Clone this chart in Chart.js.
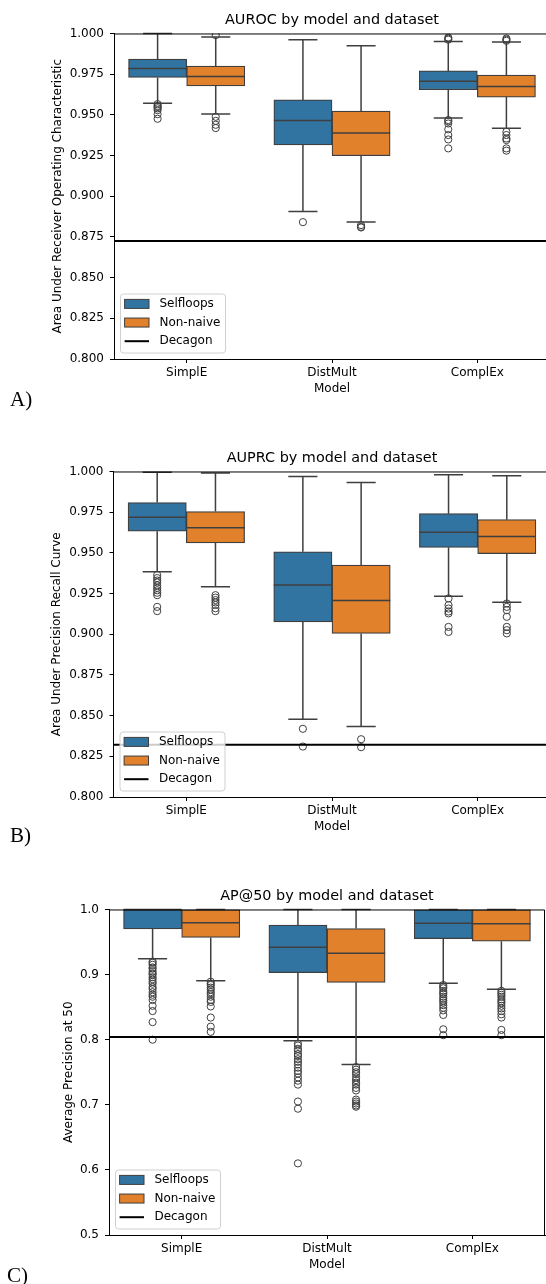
<!DOCTYPE html>
<html>
<head>
<meta charset="utf-8">
<script src="https://cdn.jsdelivr.net/npm/chart.js@4.4.0/dist/chart.umd.min.js"></script>
<style>
  html, body { margin: 0; padding: 0; background: #fff; }
  body { position: relative; width: 546px; height: 1284px; overflow: hidden; }
  .panel { position: absolute; left: 0; }
  .tag { position: absolute; font-family: "Liberation Serif", serif; font-size: 21px; line-height: 21px; color: #000; }
</style>
</head>
<body>
<div class="panel" style="top:0px"><canvas id="auroc" width="664" height="399"></canvas></div>
<div class="tag" style="top:389px;left:10px">A)</div>
<div class="panel" style="top:438px"><canvas id="auprc" width="664" height="399"></canvas></div>
<div class="tag" style="top:825px;left:10px">B)</div>
<div class="panel" style="top:876px"><canvas id="ap50" width="654" height="399"></canvas></div>
<div class="tag" style="top:1265px;left:7px">C)</div>
<script>
const models = ['SimplE', 'DistMult', 'ComplEx'];
const groups = ['Selfloops', 'Non-naive'];
const ticksAB = [0.800, 0.825, 0.850, 0.875, 0.900, 0.925, 0.950, 0.975, 1.000];
const ticksC = [0.5, 0.6, 0.7, 0.8, 0.9, 1.0];

// box stats per model: [lower whisker, q1, median, q3, upper whisker]
const aurocSelfloops = [[0.9572, 0.9730, 0.9785, 0.9842, 1.0000], [0.8907, 0.9316, 0.9466, 0.9592, 0.9961], [0.9480, 0.9654, 0.9707, 0.9770, 0.9951]];
const aurocNonNaive = [[0.9506, 0.9678, 0.9736, 0.9799, 0.9979], [0.8841, 0.9249, 0.9388, 0.9523, 0.9924], [0.9417, 0.9609, 0.9675, 0.9744, 0.9947]];
const aurocSelfloopsOut = [[0.9566, 0.9555, 0.9549, 0.9540, 0.9529, 0.9504, 0.9476], [0.8841], [0.9975, 0.9968, 0.9962, 0.9468, 0.9460, 0.9447, 0.9411, 0.9376, 0.9349, 0.9294]];
const aurocNonNaiveOut = [[0.9990, 0.9488, 0.9463, 0.9439, 0.9419], [0.8823, 0.8812, 0.8808], [0.9969, 0.9962, 0.9955, 0.9396, 0.9376, 0.9355, 0.9345, 0.9294, 0.9280]];
const aurocDecagon = 0.8725;

const auprcSelfloops = [[0.9384, 0.9633, 0.9719, 0.9809, 0.9996], [0.8478, 0.9076, 0.9302, 0.9507, 0.9969], [0.9234, 0.9534, 0.9627, 0.9741, 0.9980]];
const auprcNonNaive = [[0.9292, 0.9561, 0.9655, 0.9754, 0.9990], [0.8433, 0.9005, 0.9208, 0.9425, 0.9932], [0.9197, 0.9495, 0.9600, 0.9704, 0.9974]];
const auprcSelfloopsOut = [[0.9364, 0.9345, 0.9330, 0.9318, 0.9300, 0.9285, 0.9270, 0.9255, 0.9240, 0.9168, 0.9142], [0.8419, 0.8310], [0.9220, 0.9179, 0.9158, 0.9140, 0.9128, 0.9045, 0.9014]];
const auprcNonNaiveOut = [[0.9240, 0.9225, 0.9210, 0.9195, 0.9180, 0.9160, 0.9142], [0.8355, 0.8306], [0.9189, 0.9168, 0.9148, 0.9107, 0.9045, 0.9025, 0.9005]];
const auprcDecagon = 0.8321;

const ap50Selfloops = [[0.9245, 0.9703, 1.0, 1.0, 1.0], [0.7982, 0.9030, 0.9420, 0.9760, 1.0], [0.8866, 0.9553, 0.9790, 1.0, 1.0]];
const ap50NonNaive = [[0.8906, 0.9569, 0.9795, 1.0, 1.0], [0.7618, 0.8881, 0.9328, 0.9707, 1.0], [0.8774, 0.9513, 0.9780, 1.0, 1.0]];
const ap50SelfloopsOut = [
  [0.920, 0.918, 0.915, 0.911, 0.909, 0.905, 0.902, 0.900, 0.896, 0.893, 0.889, 0.886, 0.881, 0.878, 0.873, 0.869, 0.866, 0.861, 0.852, 0.844, 0.827, 0.800],
  [0.794, 0.791, 0.786, 0.783, 0.778, 0.775, 0.770, 0.766, 0.762, 0.757, 0.752, 0.748, 0.742, 0.737, 0.731, 0.705, 0.694, 0.610],
  [0.884, 0.881, 0.879, 0.875, 0.872, 0.870, 0.866, 0.863, 0.860, 0.857, 0.853, 0.849, 0.845, 0.838, 0.816, 0.807]];
const ap50NonNaiveOut = [
  [0.889, 0.886, 0.884, 0.880, 0.877, 0.873, 0.870, 0.866, 0.861, 0.858, 0.851, 0.834, 0.820, 0.812],
  [0.758, 0.754, 0.750, 0.747, 0.742, 0.738, 0.734, 0.731, 0.726, 0.722, 0.708, 0.705, 0.702, 0.699, 0.697],
  [0.875, 0.872, 0.869, 0.866, 0.862, 0.859, 0.856, 0.852, 0.848, 0.844, 0.839, 0.834, 0.815, 0.807]];
const ap50Decagon = 0.8043;

const fills = ['#3274a1', '#e1812c'];
const edge = '#3f3f3f';
const family = '"DejaVu Sans", sans-serif';
const shift = [-0.2, 0.2];

Chart.defaults.font.family = family;
Chart.defaults.color = '#000';

// whiskers, caps and medians, drawn on the bar elements through the y scale
const boxParts = {
  id: 'boxParts',
  afterDatasetsDraw(chart) {
    const ctx = chart.ctx;
    const y = chart.scales.y;
    ctx.save();
    ctx.strokeStyle = edge;
    ctx.lineWidth = 1.5;
    chart.data.datasets.forEach((ds, d) => {
      if (!ds.stats) return;
      chart.getDatasetMeta(d).data.forEach((bar, i) => {
        const [lo, q1, med, q3, hi] = ds.stats[i];
        const half = bar.width / 2;
        ctx.beginPath();
        ctx.moveTo(bar.x, y.getPixelForValue(q1));
        ctx.lineTo(bar.x, y.getPixelForValue(lo));
        ctx.moveTo(bar.x - half / 2, y.getPixelForValue(lo));
        ctx.lineTo(bar.x + half / 2, y.getPixelForValue(lo));
        ctx.moveTo(bar.x, y.getPixelForValue(q3));
        ctx.lineTo(bar.x, y.getPixelForValue(hi));
        ctx.moveTo(bar.x - half / 2, y.getPixelForValue(hi));
        ctx.lineTo(bar.x + half / 2, y.getPixelForValue(hi));
        ctx.moveTo(bar.x - half, y.getPixelForValue(med));
        ctx.lineTo(bar.x + half, y.getPixelForValue(med));
        ctx.stroke();
      });
    });
    ctx.restore();
  }
};

// top and right spines plus the legend in the lower left corner
const frameAndLegend = {
  id: 'frameAndLegend',
  afterDraw(chart) {
    const {ctx, chartArea: a} = chart;
    ctx.save();
    ctx.strokeStyle = '#000';
    ctx.lineWidth = 1;
    ctx.beginPath();
    ctx.moveTo(a.left, a.top + 0.5);
    ctx.lineTo(a.right - 0.5, a.top + 0.5);
    ctx.lineTo(a.right - 0.5, a.bottom);
    ctx.stroke();

    const w = 105, h = 59, x = a.left + 6, top = a.bottom - 6.5 - h;
    ctx.beginPath();
    ctx.roundRect(x + 0.5, top + 0.5, w, h, 3);
    ctx.fillStyle = 'rgba(255,255,255,0.8)';
    ctx.fill();
    ctx.strokeStyle = '#d0d0d0';
    ctx.stroke();
    const items = chart.data.datasets.filter(ds => !ds.outliers);
    items.forEach((ds, k) => {
      const cy = top + 10.4 + k * 18.65;
      if (ds.type === 'bar') {
        ctx.fillStyle = ds.backgroundColor;
        ctx.fillRect(x + 4.6, cy - 4.5, 24.4, 9);
        ctx.strokeStyle = edge;
        ctx.lineWidth = 1;
        ctx.strokeRect(x + 4.6, cy - 4.5, 24.4, 9);
      } else {
        ctx.strokeStyle = ds.borderColor;
        ctx.lineWidth = ds.borderWidth;
        ctx.beginPath();
        ctx.moveTo(x + 4.6, cy);
        ctx.lineTo(x + 29, cy);
        ctx.stroke();
      }
      ctx.fillStyle = '#000';
      ctx.font = '12px ' + family;
      ctx.textBaseline = 'middle';
      ctx.textAlign = 'left';
      ctx.fillText(ds.label, x + 39.4, cy);
    });
    ctx.restore();
  }
};

function boxPanel(id, title, yLabel, ticks, digits, stats, outs, decagon, sideW, yTitlePad) {
  const datasets = stats.map((s, g) => ({
    type: 'bar',
    label: groups[g],
    data: s.map((b, i) => ({x: i + shift[g], y: [b[1], b[3]]})),
    stats: s,
    backgroundColor: fills[g],
    borderColor: edge,
    borderWidth: 1.25,
    borderSkipped: false,
    grouped: false,
    categoryPercentage: 1.0,
    barPercentage: 1.0,
    order: 3,
  }));
  outs.forEach((o, g) => datasets.push({
    type: 'scatter',
    label: groups[g] + ' outliers',
    outliers: true,
    data: o.flatMap((vals, i) => vals.map(v => ({x: i + shift[g], y: v}))),
    pointRadius: 3.6,
    borderWidth: 1,
    borderColor: edge,
    backgroundColor: 'rgba(0,0,0,0)',
    order: 2,
  }));
  datasets.push({
    type: 'line',
    label: 'Decagon',
    data: [{x: -0.5, y: decagon}, {x: 2.5, y: decagon}],
    borderColor: '#000',
    borderWidth: 2,
    pointRadius: 0,
    order: 1,
  });

  new Chart(document.getElementById(id), {
    type: 'bar',
    data: { datasets: datasets },
    options: {
      responsive: false,
      animation: false,
      layout: { padding: 0 },
      plugins: {
        legend: { display: false },
        tooltip: { enabled: false },
        title: {
          display: true,
          text: title,
          color: '#000',
          font: { size: 14.4, weight: 'normal', family: family },
          padding: { top: 11.4, bottom: 4.8 },
        },
      },
      scales: {
        x: {
          type: 'linear',
          min: -0.5,
          max: 2.5,
          offset: false,
          grid: { display: true, drawOnChartArea: false, drawTicks: true, tickLength: 4, offset: false, color: '#000' },
          border: { display: true, color: '#000', width: 1 },
          ticks: { color: '#000', font: { size: 12 }, padding: 3, maxRotation: 0, autoSkip: false, callback: v => models[v] },
          afterBuildTicks: s => { s.ticks = models.map((m, i) => ({ value: i })); },
          title: { display: true, text: 'Model', color: '#000', font: { size: 12 }, padding: { top: 0, bottom: 2.5 } },
          afterFit: s => { s.height = 40; },
        },
        y: {
          min: ticks[0],
          max: ticks[ticks.length - 1],
          grid: { display: true, drawOnChartArea: false, drawTicks: true, tickLength: 4, color: '#000' },
          border: { display: true, color: '#000', width: 1 },
          ticks: { color: '#000', font: { size: 12 }, padding: 6, callback: v => v.toFixed(digits) },
          afterBuildTicks: s => { s.ticks = ticks.map(v => ({ value: v })); },
          title: { display: true, text: yLabel, color: '#000', font: { size: 12 }, padding: { top: yTitlePad, bottom: 0 } },
          afterFit: s => { s.width = sideW; },
        },
        // empty right-hand box so the plot is centred under its title like the original
        yRight: {
          type: 'linear',
          position: 'right',
          display: true,
          grid: { display: false },
          ticks: { display: false },
          border: { display: false },
          afterFit: s => { s.width = sideW; },
        },
      },
    },
    plugins: [boxParts, frameAndLegend],
  });
}

boxPanel('auroc', 'AUROC by model and dataset', 'Area Under Receiver Operating Characteristic',
  ticksAB, 3, [aurocSelfloops, aurocNonNaive], [aurocSelfloopsOut, aurocNonNaiveOut], aurocDecagon, 114, 50.2);
boxPanel('auprc', 'AUPRC by model and dataset', 'Area Under Precision Recall Curve',
  ticksAB, 3, [auprcSelfloops, auprcNonNaive], [auprcSelfloopsOut, auprcNonNaiveOut], auprcDecagon, 113.5, 49.2);
boxPanel('ap50', 'AP@50 by model and dataset', 'Average Precision at 50',
  ticksC, 1, [ap50Selfloops, ap50NonNaive], [ap50SelfloopsOut, ap50NonNaiveOut], ap50Decagon, 109, 61.4);
</script>
</body>
</html>
